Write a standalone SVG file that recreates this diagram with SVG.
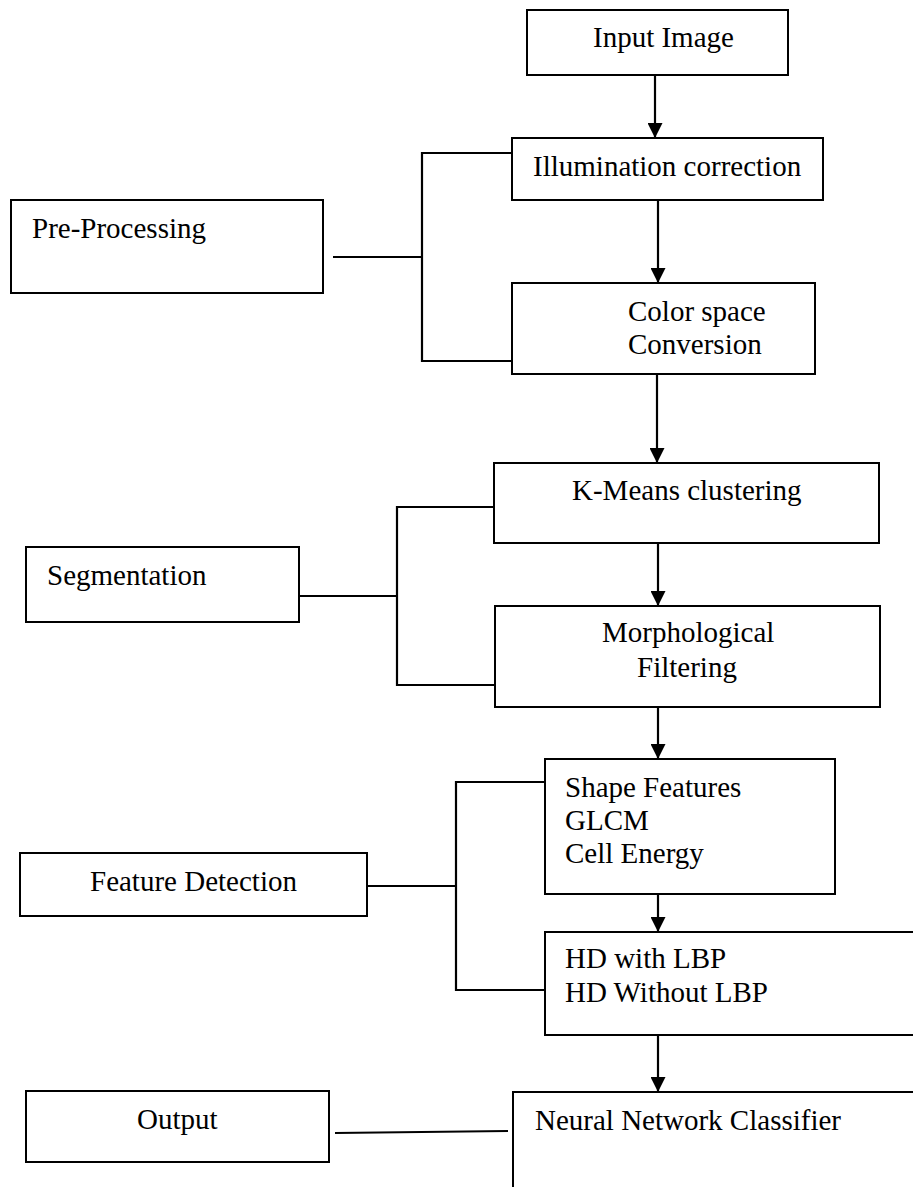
<svg xmlns="http://www.w3.org/2000/svg" width="913" height="1187" viewBox="0 0 913 1187">
<defs>
<style>
.box{fill:#fff;stroke:#000;stroke-width:2}
.t{font-family:"Liberation Serif","Times New Roman",serif;font-size:29px;fill:#000}
.c{fill:none;stroke:#000;stroke-width:2.2}
</style>
<marker id="arr" markerWidth="15" markerHeight="15" refX="15" refY="7.5" orient="auto" markerUnits="userSpaceOnUse" viewBox="0 0 15 15">
<path d="M0,0 L15,7.5 L0,15 Z" fill="#000"/>
</marker>
</defs>
<rect width="913" height="1187" fill="#fff"/>

<g id="connectors">
<line class="c" x1="655" y1="75" x2="655" y2="138" marker-end="url(#arr)"/>
<line class="c" x1="658" y1="200" x2="658" y2="283" marker-end="url(#arr)"/>
<line class="c" x1="657" y1="374" x2="657" y2="463" marker-end="url(#arr)"/>
<line class="c" x1="658" y1="543" x2="658" y2="606" marker-end="url(#arr)"/>
<line class="c" x1="658" y1="707" x2="658" y2="759" marker-end="url(#arr)"/>
<line class="c" x1="658" y1="894" x2="658" y2="932" marker-end="url(#arr)"/>
<line class="c" x1="658" y1="1035" x2="658" y2="1092" marker-end="url(#arr)"/>
<path class="c" d="M512,153 H422 V361 H512"/>
<line class="c" x1="333" y1="257" x2="422" y2="257"/>
<path class="c" d="M494,507 H397 V685 H495"/>
<line class="c" x1="299" y1="596" x2="397" y2="596"/>
<path class="c" d="M545,782 H456 V990 H545"/>
<line class="c" x1="367" y1="886" x2="456" y2="886" stroke-width="3"/>
<line class="c" x1="335" y1="1133" x2="508" y2="1131"/>
</g>

<g id="input-image">
<rect class="box" x="527" y="10" width="261" height="65"/>
<text class="t" x="593" y="47">Input Image</text>
</g>
<g id="illumination-correction">
<rect class="box" x="512" y="138" width="311" height="62"/>
<text class="t" x="533" y="176">Illumination correction</text>
</g>
<g id="color-space-conversion">
<rect class="box" x="512" y="283" width="303" height="91"/>
<text class="t" x="628" y="321">Color space</text>
<text class="t" x="628" y="354">Conversion</text>
</g>
<g id="pre-processing">
<rect class="box" x="11" y="200" width="312" height="93"/>
<text class="t" x="32" y="238">Pre-Processing</text>
</g>
<g id="k-means-clustering">
<rect class="box" x="494" y="463" width="385" height="80"/>
<text class="t" x="572" y="500">K-Means clustering</text>
</g>
<g id="morphological-filtering">
<rect class="box" x="495" y="606" width="385" height="101"/>
<text class="t" x="602" y="642">Morphological</text>
<text class="t" x="637" y="677">Filtering</text>
</g>
<g id="segmentation">
<rect class="box" x="26" y="547" width="273" height="75"/>
<text class="t" x="47" y="585">Segmentation</text>
</g>
<g id="shape-features">
<rect class="box" x="545" y="759" width="290" height="135"/>
<text class="t" x="565" y="797">Shape Features</text>
<text class="t" x="565" y="830">GLCM</text>
<text class="t" x="565" y="863">Cell Energy</text>
</g>
<g id="feature-detection">
<rect class="box" x="20" y="853" width="347" height="63"/>
<text class="t" x="90" y="891">Feature Detection</text>
</g>
<g id="hd-lbp">
<rect class="box" x="545" y="932" width="380" height="103"/>
<text class="t" x="565" y="968">HD with LBP</text>
<text class="t" x="565" y="1002">HD Without LBP</text>
</g>
<g id="neural-network-classifier">
<rect class="box" x="513" y="1092" width="412" height="110"/>
<text class="t" x="535" y="1130">Neural Network Classifier</text>
</g>
<g id="output">
<rect class="box" x="26" y="1091" width="303" height="71"/>
<text class="t" x="137" y="1129">Output</text>
</g>
</svg>
